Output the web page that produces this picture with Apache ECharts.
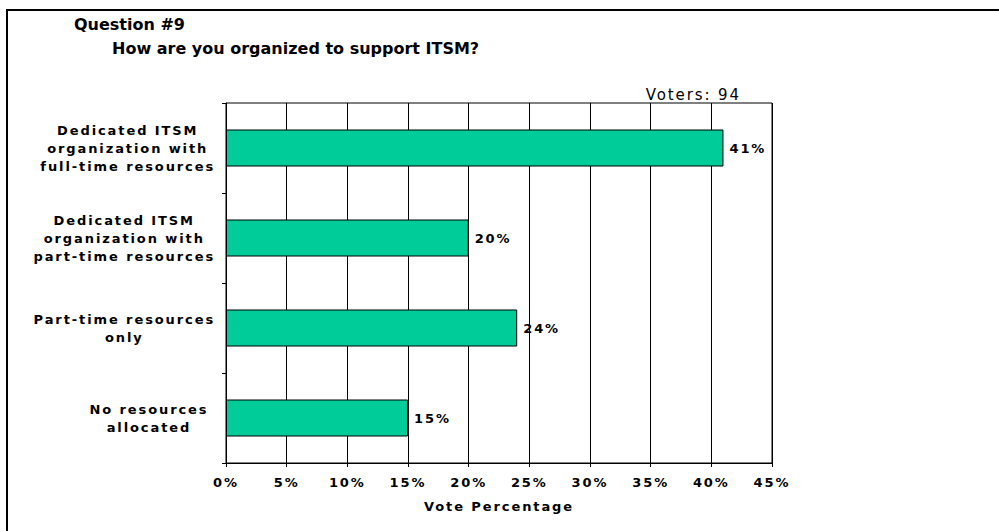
<!DOCTYPE html>
<html>
<head>
<meta charset="utf-8">
<script src="https://cdn.jsdelivr.net/npm/echarts@6/dist/echarts.min.js"></script>
<style>
  html, body { margin: 0; padding: 0; background: #fff; }
  #chart { width: 999px; height: 531px; }
  /* loose letter spacing for the axis, value and voter text */
  #chart svg text[style*="Verdana"] { letter-spacing: 1.9px; }
</style>
</head>
<body>
<div id="chart"></div>
<script>
// Survey answers, top to bottom
const categories = [
  'Dedicated ITSM\norganization with\nfull-time resources',
  'Dedicated ITSM\norganization with\npart-time resources',
  'Part-time resources\nonly',
  'No resources\nallocated'
];
// Share of votes per answer (%)
const votePercent = [41, 20, 24, 15];
// Value axis ticks (%)
const axisMin = 0;
const axisMax = 45;
const axisStep = 5;

const questionTitle = 'Question #9';
const questionText = 'How are you organized to support ITSM?';
const votersText = 'Voters: 94';
const axisTitle = 'Vote Percentage';

const plainFont = 'DejaVu Sans';
const spacedFont = "'DejaVu Sans', Verdana";

const chart = echarts.init(document.getElementById('chart'), null, { renderer: 'svg' });

chart.setOption({
  backgroundColor: '#ffffff',
  animation: false,
  graphic: [{
    type: 'rect',
    shape: { x: 7, y: 10, width: 1010, height: 540 },
    style: { fill: 'none', stroke: '#000', lineWidth: 2 },
    silent: true
  }],
  title: [
    {
      text: questionTitle, left: 74, top: 16, padding: 0,
      textStyle: { fontFamily: plainFont, fontWeight: 'bold', fontSize: 16, color: '#000' }
    },
    {
      text: questionText, left: 112, top: 40, padding: 0,
      textStyle: { fontFamily: plainFont, fontWeight: 'bold', fontSize: 16, color: '#000' }
    },
    {
      text: votersText, right: 277, top: 87, padding: 0,
      textStyle: { fontFamily: spacedFont, fontWeight: 'normal', fontSize: 15, color: '#000' }
    }
  ],
  grid: {
    left: 226, right: 227, top: 103, bottom: 68,
    show: true, borderColor: '#000', borderWidth: 1, backgroundColor: 'transparent'
  },
  xAxis: {
    type: 'value',
    min: axisMin, max: axisMax, interval: axisStep,
    name: axisTitle,
    nameLocation: 'middle',
    nameGap: 37,
    nameTextStyle: { fontFamily: spacedFont, fontWeight: 'bold', fontSize: 13, color: '#000' },
    axisLine: { show: true, lineStyle: { color: '#000', width: 1 } },
    axisTick: { show: true, length: 4, lineStyle: { color: '#000' } },
    splitLine: { show: true, lineStyle: { color: '#000', width: 1 } },
    axisLabel: {
      formatter: '{value}%', margin: 13,
      fontFamily: spacedFont, fontWeight: 'bold', fontSize: 13, color: '#000'
    }
  },
  yAxis: {
    type: 'category',
    data: categories,
    inverse: true,
    axisLine: { show: true, lineStyle: { color: '#000', width: 1 } },
    axisTick: { show: true, length: 4, lineStyle: { color: '#000' } },
    splitLine: { show: false },
    axisLabel: {
      margin: 29,
      formatter: function (v) {
        return v.split('\n').map(function (line) { return '{c|' + line + '}'; }).join('\n');
      },
      rich: {
        c: {
          align: 'center', lineHeight: 18,
          fontFamily: spacedFont, fontWeight: 'bold', fontSize: 13, color: '#000'
        }
      }
    }
  },
  series: [{
    type: 'bar',
    data: votePercent,
    barWidth: 37,
    itemStyle: { color: '#00CC99', borderColor: '#000', borderWidth: 1 },
    label: {
      show: true, position: 'right', distance: 6,
      formatter: '{c}%',
      fontFamily: spacedFont, fontWeight: 'bold', fontSize: 13, color: '#000'
    }
  }]
});
</script>
</body>
</html>
